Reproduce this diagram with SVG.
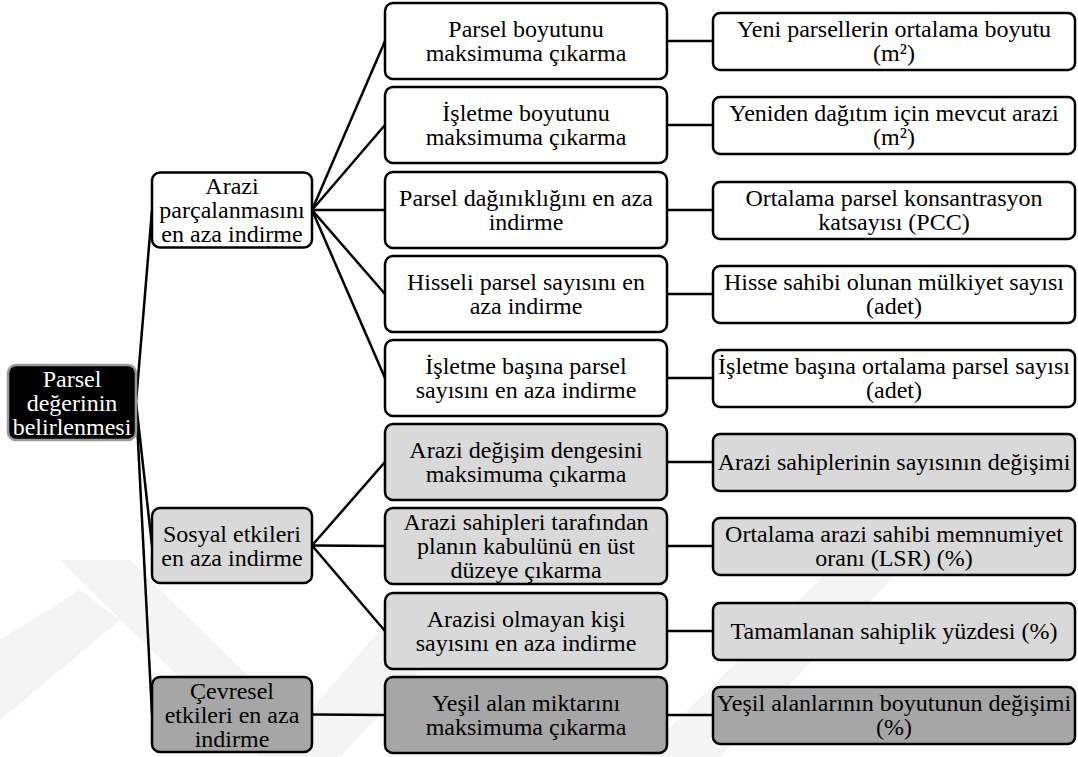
<svg xmlns="http://www.w3.org/2000/svg" width="1078" height="757" viewBox="0 0 1078 757" font-family="'Liberation Serif', 'DejaVu Serif', serif">
<style>
text{font-family:'Liberation Serif','DejaVu Serif',serif;font-size:24px;fill:#000;stroke:none;text-anchor:middle}
.box{stroke:#000;stroke-width:2.5}
.w{fill:#fff}
.l{fill:#d9d9d9}
.d{fill:#a6a6a6}
.rootbox{fill:#000;stroke:#9a9a9a;stroke-width:2.5}
.wt{fill:#fff}
#connectors line{stroke:#000;stroke-width:2.5}
.wm{fill:#f4f4f4}
</style>
<rect width="1078" height="757" fill="#fff"/>
<g id="watermark">
<polygon class="wm" points="60,560 130,560 330,757 260,757"/>
<polygon class="wm" points="0,640 0,720 120,620 80,590"/>
<polygon class="wm" points="270,757 340,757 430,660 380,630"/>
<polygon class="wm" points="640,757 720,757 900,570 840,560"/>
</g>
<g id="connectors">
<line x1="136" y1="402.5" x2="152" y2="210"/>
<line x1="136" y1="402.5" x2="152" y2="545.5"/>
<line x1="136" y1="402.5" x2="152" y2="714.5"/>
<line x1="312" y1="210" x2="385" y2="41"/>
<line x1="312" y1="210" x2="385" y2="125"/>
<line x1="312" y1="210" x2="385" y2="210"/>
<line x1="312" y1="210" x2="385" y2="294"/>
<line x1="312" y1="210" x2="385" y2="378"/>
<line x1="312" y1="545.5" x2="385" y2="462"/>
<line x1="312" y1="545.5" x2="385" y2="546"/>
<line x1="312" y1="545.5" x2="385" y2="631"/>
<line x1="312" y1="714.5" x2="385" y2="715"/>
<line x1="667" y1="41" x2="713" y2="41"/>
<line x1="667" y1="125" x2="713" y2="125"/>
<line x1="667" y1="210" x2="713" y2="210"/>
<line x1="667" y1="294" x2="713" y2="294"/>
<line x1="667" y1="378" x2="713" y2="378"/>
<line x1="667" y1="462" x2="713" y2="462"/>
<line x1="667" y1="546" x2="713" y2="546"/>
<line x1="667" y1="631" x2="713" y2="631"/>
<line x1="667" y1="715" x2="713" y2="715"/>
</g>
<g id="root">
<rect class="rootbox" x="8" y="365" width="128" height="75" rx="8"/>
<text class="wt" x="72" y="386.5">Parsel</text>
<text class="wt" x="72" y="410.5">değerinin</text>
<text class="wt" x="72" y="434.5">belirlenmesi</text>
</g>
<g id="n-arazi">
<rect class="box w" x="152" y="172.5" width="160" height="75" rx="8"/>
<text x="232" y="194">Arazi</text>
<text x="232" y="218">parçalanmasını</text>
<text x="232" y="242">en aza indirme</text>
</g>
<g id="n-sosyal">
<rect class="box l" x="152" y="508" width="160" height="75" rx="8"/>
<text x="232" y="541.5">Sosyal etkileri</text>
<text x="232" y="565.5">en aza indirme</text>
</g>
<g id="n-cevresel">
<rect class="box d" x="152" y="677" width="160" height="75" rx="8"/>
<text x="232" y="698.5">Çevresel</text>
<text x="232" y="722.5">etkileri en aza</text>
<text x="232" y="746.5">indirme</text>
</g>
<g id="a1">
<rect class="box w" x="385" y="3" width="282" height="76" rx="8"/>
<text x="526" y="37">Parsel boyutunu</text>
<text x="526" y="61">maksimuma çıkarma</text>
</g>
<g id="a2">
<rect class="box w" x="385" y="87" width="282" height="76" rx="8"/>
<text x="526" y="121">İşletme boyutunu</text>
<text x="526" y="145">maksimuma çıkarma</text>
</g>
<g id="a3">
<rect class="box w" x="385" y="172" width="282" height="76" rx="8"/>
<text x="526" y="206">Parsel dağınıklığını en aza</text>
<text x="526" y="230">indirme</text>
</g>
<g id="a4">
<rect class="box w" x="385" y="256" width="282" height="76" rx="8"/>
<text x="526" y="290">Hisseli parsel sayısını en</text>
<text x="526" y="314">aza indirme</text>
</g>
<g id="a5">
<rect class="box w" x="385" y="340" width="282" height="76" rx="8"/>
<text x="526" y="374">İşletme başına parsel</text>
<text x="526" y="398">sayısını en aza indirme</text>
</g>
<g id="a6">
<rect class="box l" x="385" y="424" width="282" height="76" rx="8"/>
<text x="526" y="458">Arazi değişim dengesini</text>
<text x="526" y="482">maksimuma çıkarma</text>
</g>
<g id="a7">
<rect class="box l" x="385" y="508" width="282" height="76" rx="8"/>
<text x="526" y="530">Arazi sahipleri tarafından</text>
<text x="526" y="554">planın kabulünü en üst</text>
<text x="526" y="578">düzeye çıkarma</text>
</g>
<g id="a8">
<rect class="box l" x="385" y="593" width="282" height="76" rx="8"/>
<text x="526" y="627">Arazisi olmayan kişi</text>
<text x="526" y="651">sayısını en aza indirme</text>
</g>
<g id="a9">
<rect class="box d" x="385" y="677" width="282" height="76" rx="8"/>
<text x="526" y="711">Yeşil alan miktarını</text>
<text x="526" y="735">maksimuma çıkarma</text>
</g>
<g id="b1">
<rect class="box w" x="713" y="13" width="362" height="57" rx="7"/>
<text x="894" y="37">Yeni parsellerin ortalama boyutu</text>
<text x="894" y="61">(m²)</text>
</g>
<g id="b2">
<rect class="box w" x="713" y="97" width="362" height="57" rx="7"/>
<text x="894" y="121">Yeniden dağıtım için mevcut arazi</text>
<text x="894" y="145">(m²)</text>
</g>
<g id="b3">
<rect class="box w" x="713" y="182" width="362" height="57" rx="7"/>
<text x="894" y="206">Ortalama parsel konsantrasyon</text>
<text x="894" y="230">katsayısı (PCC)</text>
</g>
<g id="b4">
<rect class="box w" x="713" y="266" width="362" height="57" rx="7"/>
<text x="894" y="290">Hisse sahibi olunan mülkiyet sayısı</text>
<text x="894" y="314">(adet)</text>
</g>
<g id="b5">
<rect class="box w" x="713" y="350" width="362" height="57" rx="7"/>
<text x="894" y="374">İşletme başına ortalama parsel sayısı</text>
<text x="894" y="398">(adet)</text>
</g>
<g id="b6">
<rect class="box l" x="713" y="434" width="362" height="57" rx="7"/>
<text x="894" y="470">Arazi sahiplerinin sayısının değişimi</text>
</g>
<g id="b7">
<rect class="box l" x="713" y="518" width="362" height="57" rx="7"/>
<text x="894" y="542">Ortalama arazi sahibi memnumiyet</text>
<text x="894" y="566">oranı (LSR) (%)</text>
</g>
<g id="b8">
<rect class="box l" x="713" y="603" width="362" height="57" rx="7"/>
<text x="894" y="639">Tamamlanan sahiplik yüzdesi (%)</text>
</g>
<g id="b9">
<rect class="box d" x="713" y="687" width="362" height="57" rx="7"/>
<text x="894" y="711">Yeşil alanlarının boyutunun değişimi</text>
<text x="894" y="735">(%)</text>
</g>
</svg>
